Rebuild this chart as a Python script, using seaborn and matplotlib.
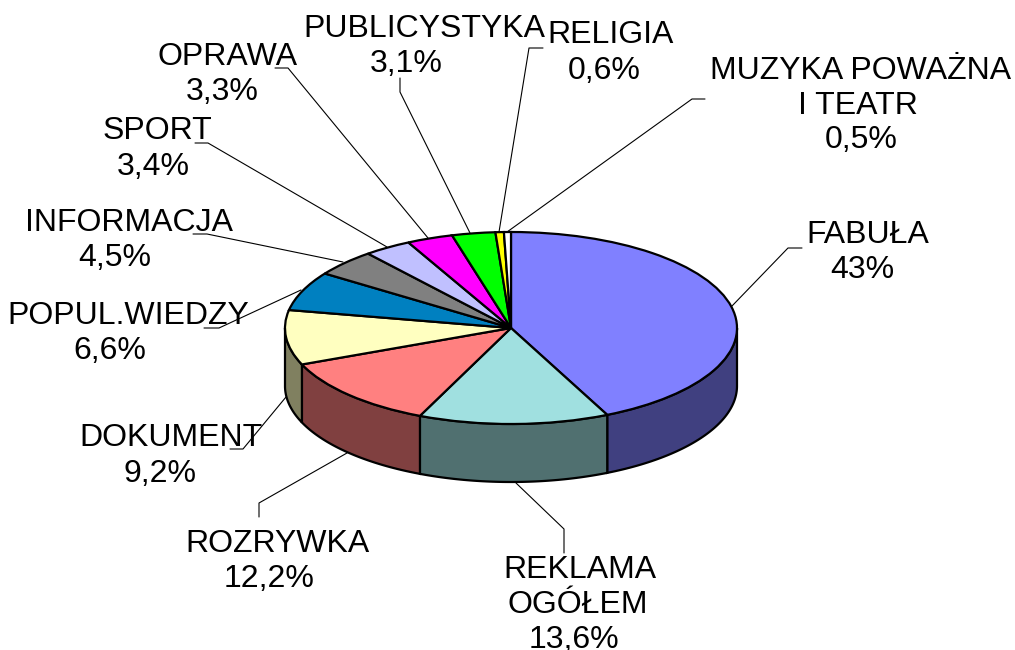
import matplotlib
matplotlib.use("Agg")
import numpy as np
import matplotlib.pyplot as plt
import seaborn as sns

# udzial programow (%)
categories = ["FABUŁA", "REKLAMA OGÓŁEM", "ROZRYWKA", "DOKUMENT", "POPUL.WIEDZY", "INFORMACJA",
              "SPORT", "OPRAWA", "PUBLICYSTYKA", "RELIGIA", "MUZYKA POWAŻNA I TEATR"]
values = [43, 13.6, 12.2, 9.2, 6.6, 4.5, 3.4, 3.3, 3.1, 0.6, 0.5]
colors = ["#8080FF", "#A0E0E0", "#FF8080", "#FFFFC0", "#0080C0", "#808080",
          "#C0C0FF", "#FF00FF", "#00FF00", "#FFFF00", "#FFFFFF"]

# etykiety: tekst, srodek x, srodek y (piksele)
labels = [
    ("FABUŁA", 868, 235), ("43%", 862, 270),
    ("REKLAMA", 580, 570), ("OGÓŁEM", 578, 605), ("13,6%", 574, 640),
    ("ROZRYWKA", 278, 544), ("12,2%", 269, 579),
    ("DOKUMENT", 171, 438), ("9,2%", 160, 474),
    ("POPUL.WIEDZY", 128, 316), ("6,6%", 110, 351),
    ("INFORMACJA", 129, 223), ("4,5%", 115, 258),
    ("SPORT", 157, 131), ("3,4%", 153, 167),
    ("OPRAWA", 228, 57), ("3,3%", 222, 92),
    ("PUBLICYSTYKA", 424, 29), ("3,1%", 406, 64),
    ("RELIGIA", 611, 35), ("0,6%", 604, 71),
    ("MUZYKA POWAŻNA", 861, 71), ("I TEATR", 858, 106), ("0,5%", 861, 140),
]

# linie odniesienia (piksele)
leaders = [
    [(732, 306), (788, 248), (802, 248)],
    [(516, 483), (564, 529), (564, 553)],
    [(347, 453), (259, 503), (259, 517)],
    [(286, 397), (243, 449), (230, 449)],
    [(301, 290), (219, 328), (204, 328)],
    [(343, 262), (207, 234), (193, 234)],
    [(387, 247), (208, 143), (195, 143)],
    [(428, 238), (288, 68), (275, 68)],
    [(470, 233), (400, 92), (400, 78)],
    [(499, 232), (529, 48), (543, 48)],
    [(507, 232), (692, 99), (705, 99)],
]

W, H = 1015, 650
cx, cy = 511, 328
rx, ry = 226, 96
depth = 58 / ry

sns.set_theme(style="white")
plt.rcParams['font.family'] = ['Liberation Sans', 'DejaVu Sans']

fig = plt.figure(figsize=(W / 100, H / 100), dpi=100)
ax = fig.add_axes([0, 0, 1, 1])

palette = sns.color_palette(colors)
wedges, _ = ax.pie(values, colors=palette, startangle=90, counterclock=False, radius=1,
                   wedgeprops=dict(edgecolor="black", linewidth=1.6, zorder=3))
ax.set_aspect("auto")
ax.set_xlim(-cx / rx, (W - cx) / rx)
ax.set_ylim(-(H - cy) / ry, cy / ry)

# bok tortu: tylko przednia czesc (kat 180-360)
edges = 90 - np.cumsum([0] + values) / np.sum(values) * 360
for i in range(len(values)):
    a0, a1 = edges[i], edges[i + 1]
    # przedzial w dol ekranu: (-180, 0)
    a0c, a1c = min(a0, 0), max(a1, -180)
    if a0c <= a1c:
        continue
    t = np.radians(np.linspace(a0c, a1c, 60))
    x = np.cos(t)
    y = np.sin(t)
    px = np.r_[x, x[::-1]]
    py = np.r_[y, y[::-1] - depth]
    side = tuple(c * 0.5 for c in palette[i])
    ax.fill(px, py, facecolor=side, edgecolor="black", linewidth=1.6, zorder=2)

# warstwa w pikselach na etykiety
ov = fig.add_axes([0, 0, 1, 1], facecolor="none")
ov.set_xlim(0, W)
ov.set_ylim(H, 0)
ov.axis("off")
for pts in leaders:
    ov.plot([p[0] for p in pts], [p[1] for p in pts], color="black", lw=0.8, zorder=1)
for txt, x, y in labels:
    ov.text(x, y, txt, ha="center", va="center", fontsize=23, color="black", zorder=2)

fig.savefig("out.png", dpi=100)
